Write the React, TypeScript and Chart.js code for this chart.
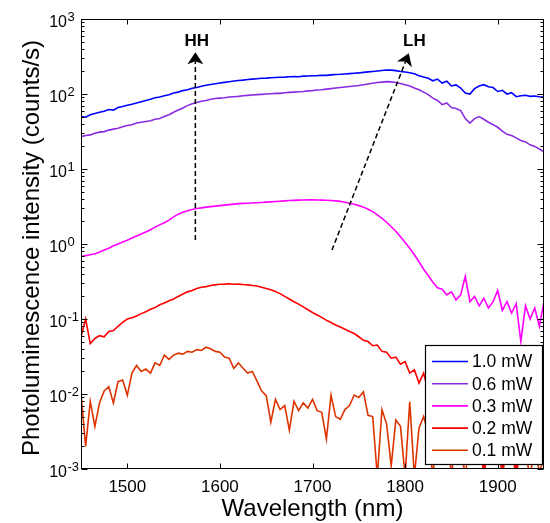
import { useEffect, useRef } from 'react';
import { Chart, registerables } from 'chart.js';

Chart.register(...registerables);

const FONT = "'Liberation Sans', Arial, Helvetica, sans-serif";

const wavelengths = [
  1450, 1455, 1460, 1465, 1470, 1475, 1480, 1485, 1490, 1495,
  1500, 1505, 1510, 1515, 1520, 1525, 1530, 1535, 1540, 1545,
  1550, 1555, 1560, 1565, 1570, 1575, 1580, 1585, 1590, 1595,
  1600, 1605, 1610, 1615, 1620, 1625, 1630, 1635, 1640, 1645,
  1650, 1655, 1660, 1665, 1670, 1675, 1680, 1685, 1690, 1695,
  1700, 1705, 1710, 1715, 1720, 1725, 1730, 1735, 1740, 1745,
  1750, 1755, 1760, 1765, 1770, 1775, 1780, 1785, 1790, 1795,
  1800, 1805, 1810, 1815, 1820, 1825, 1830, 1835, 1840, 1845,
  1850, 1855, 1860, 1865, 1870, 1875, 1880, 1885, 1890, 1895,
  1900, 1905, 1910, 1915, 1920, 1925, 1930, 1935, 1940, 1945,
  1950,
];

const pl10mW = [
  50, 49, 53, 55, 57, 59, 62, 61, 66, 68,
  71, 73, 76, 79, 82, 85, 89, 91, 95, 98,
  103, 106, 111, 114, 119, 122, 127, 131, 134, 137,
  140, 143, 146, 149, 151, 153, 156, 158, 160, 162,
  163, 165, 166, 167, 168, 170, 171, 170, 173, 174,
  175, 176, 178, 177, 180, 182, 183, 185, 187, 189,
  191, 194, 197, 200, 203, 206, 209, 208, 205, 200,
  196, 192, 186, 175, 168, 162, 150, 158, 140, 148,
  128, 132, 120, 103, 100, 118, 128, 133, 125, 122,
  108, 112, 100, 104, 92, 95, 96, 93, 94, 92,
  91,
];

const pl06mW = [
  27, 28, 28.5, 30, 31, 31.5, 33, 34, 35, 36.5,
  38, 39, 41, 42, 43, 44, 46, 47, 50, 53,
  57, 61, 65, 70, 74, 77, 80, 82, 85, 87,
  88, 89, 91, 92, 93, 95, 96, 97, 98, 99,
  100, 101, 102, 102, 104, 105, 106, 107, 108, 110,
  111, 113, 114, 116, 118, 120, 122, 124, 126, 128,
  130, 133, 136, 139, 142, 144, 146, 145, 142, 138,
  133, 128, 120, 114, 106, 98, 88, 82, 72, 76,
  66, 64, 60, 47, 41, 47, 50, 46, 42, 39,
  36, 32, 29, 28, 26, 24, 23, 21, 20, 18.5,
  17,
];

const pl03mW = [
  0.68, 0.7, 0.72, 0.74, 0.78, 0.83, 0.88, 0.95, 1.0, 1.06,
  1.12, 1.2, 1.28, 1.36, 1.45, 1.55, 1.68, 1.8, 1.92, 2.08,
  2.3, 2.5, 2.65, 2.78, 2.88, 2.97, 3.03, 3.1, 3.15, 3.2,
  3.25, 3.3, 3.35, 3.4, 3.45, 3.48, 3.5, 3.52, 3.55, 3.58,
  3.62, 3.65, 3.68, 3.72, 3.76, 3.8, 3.82, 3.85, 3.86, 3.87,
  3.87, 3.86, 3.85, 3.83, 3.8, 3.76, 3.7, 3.6, 3.5, 3.38,
  3.25, 3.1, 2.9, 2.7, 2.45, 2.2, 1.95, 1.7, 1.48, 1.25,
  1.05, 0.88, 0.72, 0.58, 0.46, 0.38, 0.31, 0.26, 0.25, 0.21,
  0.23, 0.18, 0.21, 0.37, 0.17, 0.2, 0.15, 0.19, 0.14, 0.17,
  0.24, 0.13, 0.17, 0.12, 0.16, 0.05, 0.15, 0.1, 0.14, 0.08,
  0.17,
];

const pl02mW = [
  0.058, 0.1, 0.047, 0.055, 0.06, 0.058, 0.068, 0.07, 0.08, 0.09,
  0.1, 0.104, 0.11, 0.118, 0.125, 0.135, 0.142, 0.155, 0.163, 0.175,
  0.185, 0.2, 0.215, 0.23, 0.24, 0.255, 0.265, 0.27, 0.28, 0.285,
  0.29, 0.292, 0.295, 0.29, 0.292, 0.288, 0.285, 0.28, 0.275, 0.265,
  0.255, 0.245, 0.232, 0.218, 0.2, 0.185, 0.17, 0.158, 0.145, 0.133,
  0.122, 0.113, 0.105, 0.096, 0.09, 0.083, 0.078, 0.073, 0.068, 0.064,
  0.058, 0.052, 0.05, 0.044, 0.045, 0.037, 0.036, 0.03, 0.031, 0.025,
  0.027, 0.019, 0.021, 0.014, 0.019, 0.011, 0.012, 0.013, 0.011, 0.01,
  0.009, 0.0085, 0.008, 0.007, 0.0075, 0.0065, 0.006, 0.0008, 0.006, 0.005,
  0.0055, 0.0008, 0.005, 0.0045, 0.0008, 0.005, 0.006, 0.007, 0.009, 0.011,
  0.0009,
];

const pl01mW = [
  0.01, 0.002, 0.008, 0.0037, 0.0076, 0.011, 0.0125, 0.0076, 0.0146, 0.0154,
  0.0096, 0.019, 0.024, 0.02, 0.0215, 0.019, 0.026, 0.024, 0.033, 0.029,
  0.033, 0.035, 0.034, 0.037, 0.036, 0.039, 0.038, 0.042, 0.04, 0.037,
  0.036, 0.031, 0.03, 0.022, 0.026, 0.022, 0.019, 0.02, 0.015, 0.011,
  0.0095, 0.0042, 0.0085, 0.0062, 0.007, 0.0033, 0.008, 0.006, 0.0076, 0.0065,
  0.0085, 0.006, 0.0057, 0.0025, 0.0097, 0.005, 0.0046, 0.0062, 0.007, 0.0097,
  0.009, 0.0107, 0.0052, 0.005, 0.0008, 0.0062, 0.004, 0.0011, 0.0045, 0.0037,
  0.0008, 0.0079, 0.0008, 0.0035, 0.005, 0.003, 0.0008, 0.004, 0.0025, 0.0035,
  0.0008, 0.003, 0.002, 0.0008, 0.0028, 0.002, 0.003, 0.0008, 0.0022, 0.0015,
  0.0025, 0.0008, 0.002, 0.0018, 0.0008, 0.002, 0.0016, 0.0008, 0.002, 0.0009,
  0.0015,
];

const seriesValues = [pl10mW, pl06mW, pl03mW, pl02mW, pl01mW];
const seriesLabels = ['1.0 mW', '0.6 mW', '0.3 mW', '0.2 mW', '0.1 mW'];
const seriesColors = ['#0000ff', '#8a2be2', '#ff00ff', '#ff0000', '#dd3300'];

const xTickValues = [1500, 1600, 1700, 1800, 1900];
const xTickLabels = ['1500', '1600', '1700', '1800', '1900'];
const yTickValues = [0.001, 0.01, 0.1, 1, 10, 100, 1000];
const yTickExponents = ['-3', '-2', '-1', '0', '1', '2', '3'];
const yMinorMultipliers = [2, 3, 4, 5, 6, 7, 8, 9];

const xTitle = 'Wavelength (nm)';
const yTitle = 'Photoluminescence intensity (counts/s)';

// arrow annotations in data coordinates (start, tip, label anchor)
const arrowLabels = ['HH', 'LH'];
const arrowStartX = [1573.5, 1721];
const arrowStartY = [1.13, 0.83];
const arrowTipX = [1573.5, 1804];
const arrowTipY = [360, 350];
const arrowLabelX = [1575, 1810];
const arrowLabelY = [440, 440];

const decorPlugin = {
  id: 'decor',
  afterDatasetsDraw(chart: any) {
    const { ctx, chartArea: a, scales } = chart;
    const xs = scales.x;
    const ys = scales.y;
    ctx.save();

    // arrows
    for (let i = 0; i < arrowLabels.length; i++) {
      const x0 = xs.getPixelForValue(arrowStartX[i]);
      const y0 = ys.getPixelForValue(arrowStartY[i]);
      const x1 = xs.getPixelForValue(arrowTipX[i]);
      const y1 = ys.getPixelForValue(arrowTipY[i]);
      const ang = Math.atan2(y1 - y0, x1 - x0);
      const ux = Math.cos(ang);
      const uy = Math.sin(ang);
      const px = -uy;
      const py = ux;
      const L = 12;
      const W = 8;
      const N = 3;
      ctx.strokeStyle = '#000';
      ctx.lineWidth = 1.5;
      ctx.setLineDash([5, 3]);
      ctx.beginPath();
      ctx.moveTo(x0, y0);
      ctx.lineTo(x1 - ux * (L - N), y1 - uy * (L - N));
      ctx.stroke();
      ctx.setLineDash([]);
      ctx.beginPath();
      ctx.moveTo(x1, y1);
      ctx.lineTo(x1 - ux * L + px * W, y1 - uy * L + py * W);
      ctx.lineTo(x1 - ux * (L - N), y1 - uy * (L - N));
      ctx.lineTo(x1 - ux * L - px * W, y1 - uy * L - py * W);
      ctx.closePath();
      ctx.fillStyle = '#000';
      ctx.fill();
      ctx.font = `bold 17px ${FONT}`;
      ctx.textAlign = 'center';
      ctx.textBaseline = 'alphabetic';
      ctx.fillText(arrowLabels[i], xs.getPixelForValue(arrowLabelX[i]), ys.getPixelForValue(arrowLabelY[i]));
    }

    // frame
    ctx.strokeStyle = '#000';
    ctx.lineWidth = 1;
    const L0 = Math.round(a.left) + 0.5;
    const R0 = Math.round(a.right) - 0.5;
    const T0 = Math.round(a.top) + 0.5;
    const B0 = Math.round(a.bottom) - 0.5;
    ctx.strokeRect(L0, T0, R0 - L0, B0 - T0);

    // ticks
    ctx.beginPath();
    xTickValues.forEach((v) => {
      const x = Math.round(xs.getPixelForValue(v)) + 0.5;
      ctx.moveTo(x, B0);
      ctx.lineTo(x, B0 - 5);
      ctx.moveTo(x, T0);
      ctx.lineTo(x, T0 + 5);
    });
    yTickValues.forEach((v, k) => {
      const y = Math.round(ys.getPixelForValue(v)) + 0.5;
      ctx.moveTo(L0, y);
      ctx.lineTo(L0 + 6, y);
      ctx.moveTo(R0, y);
      ctx.lineTo(R0 - 6, y);
      if (k < yTickValues.length - 1) {
        yMinorMultipliers.forEach((m) => {
          const ym = Math.round(ys.getPixelForValue(v * m)) + 0.5;
          ctx.moveTo(L0, ym);
          ctx.lineTo(L0 + 3, ym);
          ctx.moveTo(R0, ym);
          ctx.lineTo(R0 - 3, ym);
        });
      }
    });
    ctx.stroke();

    // tick labels
    ctx.fillStyle = '#000';
    ctx.textBaseline = 'alphabetic';
    ctx.font = `17px ${FONT}`;
    ctx.textAlign = 'center';
    xTickValues.forEach((v, k) => {
      ctx.fillText(xTickLabels[k], xs.getPixelForValue(v), a.bottom + 22.5);
    });
    yTickValues.forEach((v, k) => {
      const y = ys.getPixelForValue(v);
      ctx.font = `16px ${FONT}`;
      ctx.textAlign = 'right';
      ctx.fillText('10', a.left - 14, y + 7.5);
      ctx.font = `13px ${FONT}`;
      ctx.textAlign = 'left';
      ctx.fillText(yTickExponents[k], a.left - 13.5, y + 2);
    });

    // axis titles
    ctx.font = `24px ${FONT}`;
    ctx.textAlign = 'center';
    ctx.fillText(xTitle, (a.left + a.right) / 2, 516);
    ctx.save();
    ctx.translate(39, 248);
    ctx.rotate(-Math.PI / 2);
    ctx.fillText(yTitle, 0, 0);
    ctx.restore();

    // legend
    const bx = 425.5;
    const by = 345.5;
    const bw = 117;
    const bh = 119;
    ctx.fillStyle = '#fff';
    ctx.fillRect(bx, by, bw, bh);
    ctx.strokeStyle = '#000';
    ctx.lineWidth = 1.2;
    ctx.strokeRect(bx, by, bw, bh);
    chart.data.datasets.forEach((ds: any, k: number) => {
      const ry = 361.5 + k * 22.2;
      ctx.strokeStyle = ds.borderColor;
      ctx.lineWidth = 1.6;
      ctx.beginPath();
      ctx.moveTo(432, ry);
      ctx.lineTo(468, ry);
      ctx.stroke();
      ctx.fillStyle = '#000';
      ctx.font = `17.5px ${FONT}`;
      ctx.textAlign = 'left';
      ctx.textBaseline = 'middle';
      ctx.fillText(ds.label, 472, ry + 1);
    });

    ctx.restore();
  },
};

export default function App() {
  const ref = useRef<HTMLCanvasElement | null>(null);
  useEffect(() => {
    if (!ref.current) return;
    const chart = new Chart(ref.current, {
      type: 'line',
      data: {
        datasets: seriesValues.map((vals, k) => ({
          label: seriesLabels[k],
          data: wavelengths.map((w, i) => ({ x: w, y: vals[i] })),
          borderColor: seriesColors[k],
          backgroundColor: seriesColors[k],
          borderWidth: 1.6,
          pointRadius: 0,
          tension: 0,
          fill: false,
        })),
      },
      options: {
        animation: false,
        responsive: false,
        devicePixelRatio: 1,
        layout: { padding: { left: 0, top: 19, right: 6, bottom: 0 } },
        plugins: { legend: { display: false }, tooltip: { enabled: false } },
        events: [],
        scales: {
          x: {
            type: 'linear',
            min: 1450,
            max: 1950,
            grid: { display: false, drawTicks: false },
            border: { display: false },
            ticks: { display: false },
            afterBuildTicks: (s: any) => {
              s.ticks = xTickValues.map((v) => ({ value: v }));
            },
            afterFit: (s: any) => {
              s.height = 54;
              s.paddingLeft = 0;
              s.paddingRight = 0;
              s.paddingTop = 0;
              s.paddingBottom = 0;
            },
          },
          y: {
            type: 'logarithmic',
            min: 0.001,
            max: 1000,
            grid: { display: false, drawTicks: false },
            border: { display: false },
            ticks: { display: false },
            afterBuildTicks: (s: any) => {
              s.ticks = yTickValues.map((v) => ({ value: v }));
            },
            afterFit: (s: any) => {
              s.width = 81;
              s.paddingLeft = 0;
              s.paddingRight = 0;
              s.paddingTop = 0;
              s.paddingBottom = 0;
            },
          },
        },
      },
      plugins: [decorPlugin],
    } as any);
    return () => chart.destroy();
  }, []);
  return (
    <div style={{ position: 'fixed', left: 0, top: 0, width: 550, height: 523, background: '#fff' }}>
      <canvas ref={ref} width={550} height={523} style={{ width: 550, height: 523, display: 'block' }} />
    </div>
  );
}
